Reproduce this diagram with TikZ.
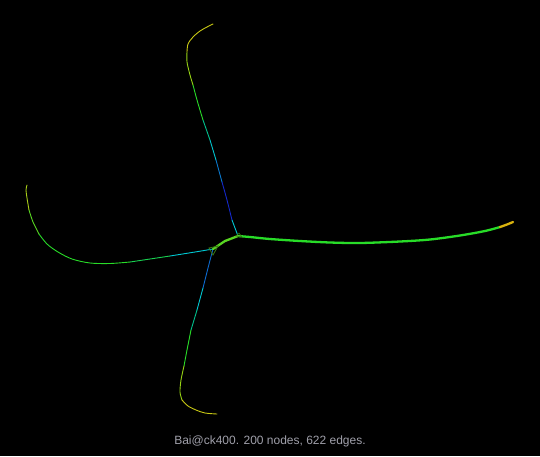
\documentclass[tikz,border=0pt]{standalone}
\usepackage{fontspec}
\setmainfont{Liberation Sans}
\definecolor{cyel}{RGB}{200,200,20}
\definecolor{cyg}{RGB}{150,210,20}
\definecolor{cgrn}{RGB}{40,220,40}
\definecolor{cteal}{RGB}{0,190,140}
\definecolor{ccyan}{RGB}{0,200,210}
\definecolor{cblue}{RGB}{20,40,200}
\definecolor{capgray}{RGB}{160,160,170}
\definecolor{cdkg}{RGB}{60,120,20}
\begin{document}
\begin{tikzpicture}[x=1pt,y=-1pt,
  arm/.style={line width=0.9pt,line cap=round,line join=round},
  thickarm/.style={line width=2.3pt,line cap=round,line join=round}]
\fill[black] (0,0) rectangle (540,456);
\useasboundingbox (0,0) rectangle (540,456);
% top arm
\draw[arm,ccyan] plot[smooth] coordinates {(238,236) (235,228) (232,220)};
\draw[arm,cblue] plot[smooth] coordinates {(232,220) (227,200) (222,182)};
\draw[arm,cblue!50!ccyan] plot[smooth] coordinates {(222,182) (216,160)};
\draw[arm,ccyan] plot[smooth] coordinates {(216,160) (210,140)};
\draw[arm,cteal] plot[smooth] coordinates {(210,140) (203,120)};
\draw[arm,cgrn] plot[smooth] coordinates {(203,120) (197,100) (193,85)};
\draw[arm,cyg] plot[smooth] coordinates {(193,85) (190,75) (187,62) (187,52)};
\draw[arm,cyel] plot[smooth] coordinates {(187,52) (188,44) (193,37) (200,31) (207,27) (213,24)};
% bottom arm
\draw[arm,cblue!60!ccyan] plot[smooth] coordinates {(213,249) (208,268) (203,288)};
\draw[arm,ccyan] plot[smooth] coordinates {(203,288) (197,310)};
\draw[arm,cteal] plot[smooth] coordinates {(197,310) (191,330)};
\draw[arm,cgrn] plot[smooth] coordinates {(191,330) (187,350) (184,366)};
\draw[arm,cyg] plot[smooth] coordinates {(184,366) (181,380) (180,392) (182,400)};
\draw[arm,cyel] plot[smooth] coordinates {(182,400) (188,406) (196,410) (205,413) (217,414)};
% left arm
\draw[arm,ccyan] plot[smooth] coordinates {(213,249) (195,252) (170,256)};
\draw[arm,cteal!40!cgrn] plot[smooth] coordinates {(170,256) (150,259) (130,262)};
\draw[arm,cgrn] plot[smooth] coordinates {(130,262) (110,263.5) (90,263) (72,259) (58,252) (47,244) (39,234)};
\draw[arm,cgrn!70!cyel] plot[smooth] coordinates {(39,234) (33,222) (29,210)};
\draw[arm,cyel!80!cgrn] plot[smooth] coordinates {(29,210) (27,198) (26,190) (27,185)};
% right arm
\draw[thickarm,cgrn] plot[smooth] coordinates {(238,236) (250,237) (270,239) (300,241) (330,242.5) (360,243) (400,241.5) (430,239.5) (460,235.5) (485,231) (500,227)};
\draw[thickarm,cyel!70!orange] plot[smooth] coordinates {(500,227) (507,224.5) (513,222)};
% centre link
\draw[thickarm,cgrn!70!cyel] (213,249) -- (225,241) -- (238,236);
\draw[cdkg,line width=0.8pt] (209,248) -- (213,255) -- (218,246) -- cycle;
\draw[cdkg,line width=0.6pt] (236,236) -- (239,233) -- (242,237) -- cycle;
% caption
\node[text=capgray,font=\fontsize{12}{14}\selectfont] (cap) at (270,441) {Bai@ck400. 200 nodes, 622 edges.};
\end{tikzpicture}
\end{document}
